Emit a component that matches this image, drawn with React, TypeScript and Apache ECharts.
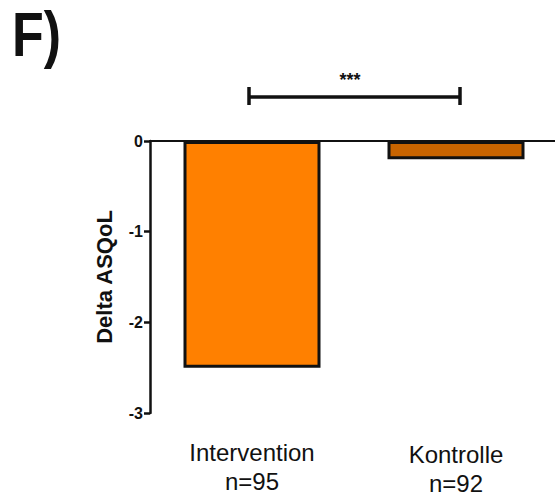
import React, { useEffect, useRef } from "react";
import * as echarts from "echarts";

const categories = ["Intervention\nn=95", "Kontrolle\nn=92"];
const values = [-2.5, -0.2];
const barColors = ["#FF8000", "#C86400"];
const yTicks = { min: -3, max: 0, interval: 1 };
const panelLabel = "F)";
const significance = "***";

export default function App() {
  const ref = useRef<HTMLDivElement>(null);
  useEffect(() => {
    if (!ref.current) return;
    const chart = echarts.init(ref.current, null, { renderer: "svg" });
    const font = "'Liberation Sans', Arial, sans-serif";
    chart.setOption({
      animation: false,
      backgroundColor: "#ffffff",
      textStyle: { fontFamily: font },
      grid: {
        left: 150,
        top: 141,
        bottom: 85,
        right: -3,
        containLabel: false,
        outerBoundsMode: "none",
      },
      xAxis: [
        {
          type: "category",
          data: categories.map((c, i) =>
            i === 1 ? { value: c, textStyle: { padding: [2, 0, 0, 0] } } : c
          ),
          position: "bottom",
          axisLine: { show: false },
          axisTick: { show: false },
          axisLabel: {
            color: "#111",
            fontSize: 24,
            lineHeight: 29,
            margin: 25,
            fontFamily: font,
          },
        },
        {
          type: "category",
          data: categories,
          position: "top",
          axisLine: { show: true, lineStyle: { color: "#111", width: 2 } },
          axisTick: { show: false },
          axisLabel: { show: false },
        },
      ],
      yAxis: {
        type: "value",
        min: yTicks.min,
        max: yTicks.max,
        interval: yTicks.interval,
        name: "Delta ASQoL",
        nameLocation: "middle",
        nameGap: 35,
        nameTextStyle: { fontSize: 22, fontWeight: "bold", color: "#111", fontFamily: font },
        axisLine: { show: true, lineStyle: { color: "#111", width: 2.5 } },
        axisTick: { show: true, length: 6, lineStyle: { color: "#111", width: 2.5 } },
        axisLabel: { fontSize: 16, fontWeight: "bold", color: "#111", margin: 7, fontFamily: font },
        splitLine: { show: false },
      },
      series: [
        {
          type: "bar",
          xAxisIndex: 0,
          barWidth: 137,
          data: values.map((v, i) => ({
            value: v,
            itemStyle: { color: barColors[i], borderColor: "#111", borderWidth: 3 },
          })),
        },
      ],
      graphic: [
        {
          type: "text",
          x: 12,
          y: 3,
          scaleY: 1.2,
          style: {
            text: panelLabel,
            font: `bold 52px ${font}`,
            lineHeight: 52,
            fill: "#111",
            verticalAlign: "top",
          },
        },
        {
          type: "group",
          children: [
            { type: "line", shape: { x1: 249, y1: 97, x2: 460, y2: 97 }, style: { stroke: "#111", lineWidth: 3.5 } },
            { type: "line", shape: { x1: 249, y1: 87, x2: 249, y2: 105 }, style: { stroke: "#111", lineWidth: 3.5 } },
            { type: "line", shape: { x1: 460, y1: 87, x2: 460, y2: 105 }, style: { stroke: "#111", lineWidth: 3.5 } },
            {
              type: "text",
              x: 350,
              y: 80,
              style: { text: significance, font: `bold 18px ${font}`, fill: "#111", align: "center", verticalAlign: "middle" },
            },
          ],
        },
      ],
    });
    return () => chart.dispose();
  }, []);
  return (
    <div
      ref={ref}
      style={{ position: "fixed", left: 0, top: 0, width: 555, height: 498 }}
    />
  );
}
